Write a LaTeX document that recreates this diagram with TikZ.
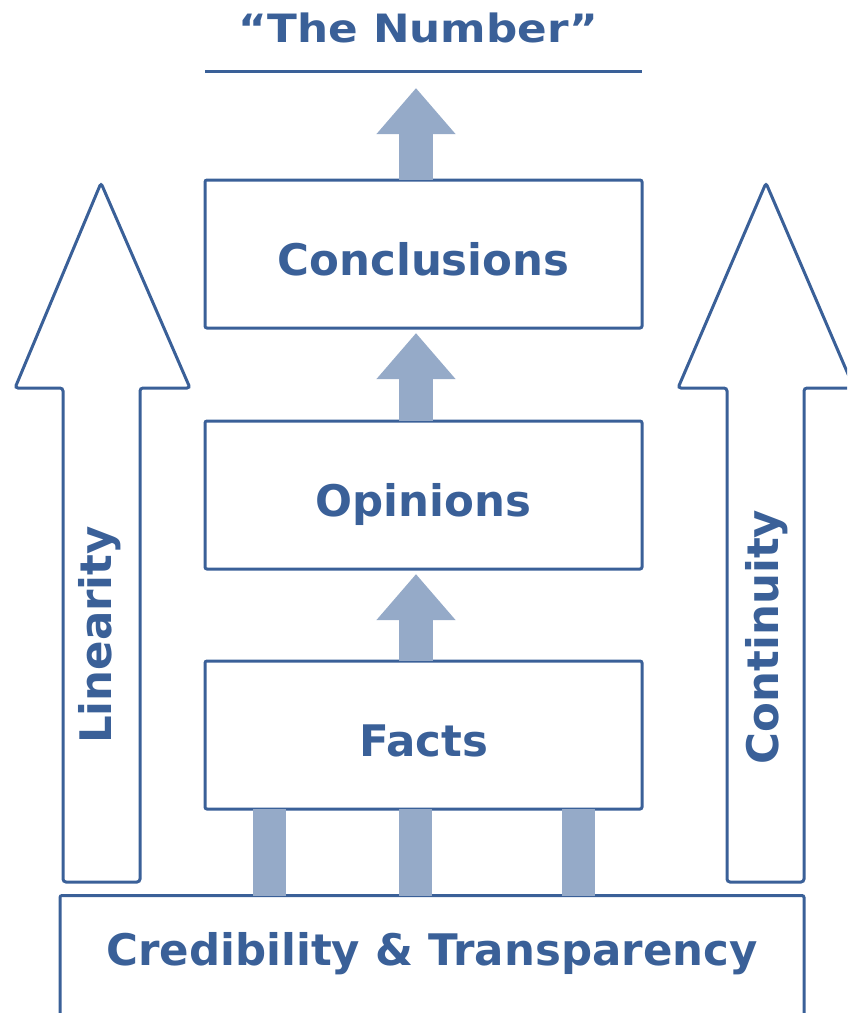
\documentclass[tikz,border=0pt]{standalone}
\usepackage{fontspec}
\setmainfont{DejaVu Sans}
\newfontfamily\headfont{DejaVu Sans}[FakeStretch=1.12, Ligatures=TeX]
\usetikzlibrary{arrows.meta}
\usetikzlibrary{positioning}
\definecolor{darkblue}{HTML}{3A6098}
\definecolor{paleblue}{HTML}{95AAC8}
\tikzstyle{stage} = [draw=darkblue, line width=3pt, rounded corners=2pt,
minimum width=437pt, minimum height=148pt, outer sep=0pt, text=darkblue,
font=\bfseries\fontsize{43.5}{50}\selectfont, text height=42pt, text depth=0pt]
\tikzstyle{flow} = [draw=paleblue, line width=34pt, -{Triangle[length=46pt,width=76pt]}]

\begin{document}
\begin{tikzpicture}[x=1pt, y=-1pt,
	bar/.style={draw=paleblue, line width=33pt},
	outline/.style={draw=darkblue, line width=3pt, rounded corners=3pt},
	side/.style={text=darkblue, font=\bfseries\fontsize{43.5}{50}\selectfont, rotate=90}]
    \useasboundingbox (0,0) rectangle (847,1013);
    \clip (0,0) rectangle (847,1013);
    \node [text=darkblue, font=\headfont\bfseries\fontsize{39}{44}\selectfont, text height=28pt, text depth=0pt] (number) at (418.5,28) {“The Number”};
    \coordinate (rule west) at (205,71);
    \coordinate (rule east) at (642,71);
    \coordinate (goal) at (416,88);
    \node [stage] (conclusions) at (423.5,254) {Conclusions};
    \node [stage, below=93pt of conclusions] (opinions) {Opinions};
    \node [stage, below=92pt of opinions] (facts) {Facts};
    \node [stage, minimum width=744pt, minimum height=150pt, text height=33pt, text depth=43pt] (credibility) at (432,970.5) {Credibility \& Transparency};
	%% Side arrows
    \draw [outline] (63,882) -- (63,388) -- (15,388) -- (101,183) -- (190,388) -- (140,388) -- (140,882) -- cycle;
    \draw [outline] (727,882) -- (727,388) -- (678,388) -- (766,183) -- (854,388) -- (804,388) -- (804,882) -- cycle;
    \node [side] (linearity) at (100,635) {Linearity};
    \node [side] (continuity) at (767,637) {Continuity};
	%% Arrows
    \draw [darkblue, line width=3pt] (rule west) -- (rule east);
    \draw [flow] ([xshift=-7.5pt]conclusions.north) -- (goal);
    \draw [flow] ([xshift=-7.5pt]opinions.north) -- ([xshift=-7.5pt,yshift=-5pt]conclusions.south);
    \draw [flow] ([xshift=-7.5pt]facts.north) -- ([xshift=-7.5pt,yshift=-5pt]opinions.south);
    \foreach \dx in {-154,-8.5,155}
        \draw [bar] ([xshift=\dx pt]facts.south) -- ([xshift=\dx pt]facts.south |- credibility.north);
\end{tikzpicture}
\end{document}
